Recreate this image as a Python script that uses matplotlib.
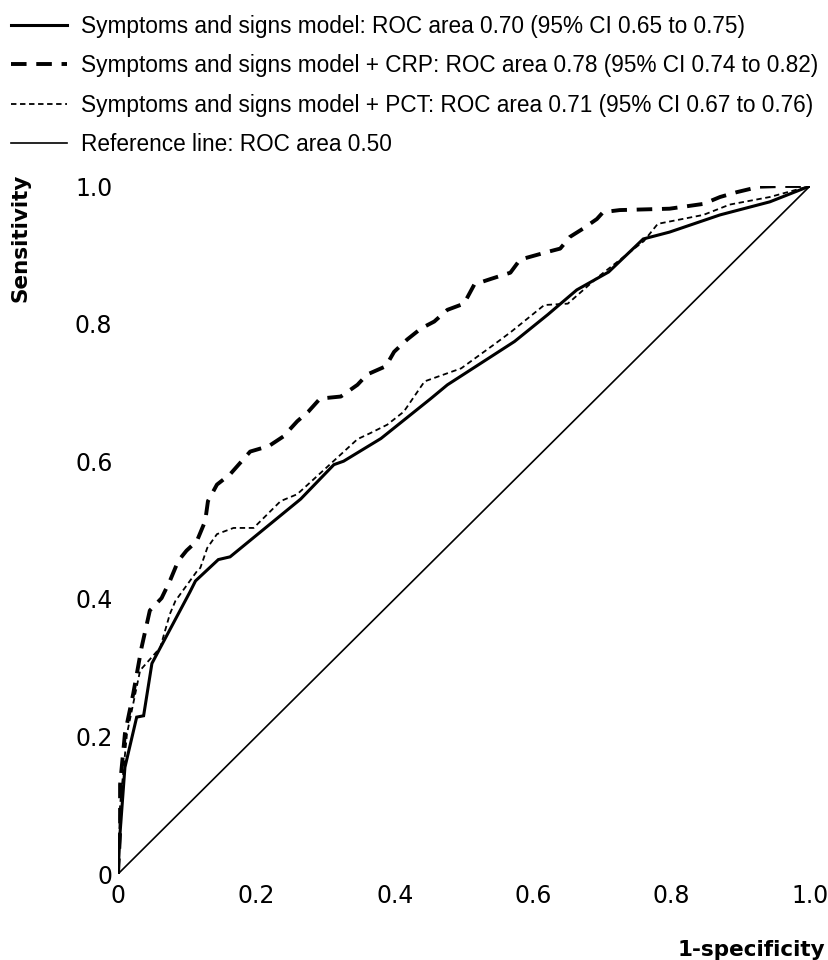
import matplotlib
matplotlib.use('Agg')
import matplotlib.pyplot as plt

# ROC curves (1-specificity, sensitivity)
fpr_model = [0, 0.003, 0.01, 0.027, 0.037, 0.049, 0.104, 0.112, 0.145, 0.162, 0.264, 0.312,
             0.326, 0.38, 0.452, 0.476, 0.573, 0.621, 0.663, 0.709, 0.759, 0.797, 0.87, 0.942, 1.0]
tpr_model = [0, 0.06, 0.155, 0.228, 0.23, 0.306, 0.41, 0.426, 0.457, 0.461, 0.545, 0.595,
             0.6, 0.633, 0.691, 0.711, 0.774, 0.813, 0.849, 0.875, 0.923, 0.933, 0.958, 0.977, 1.0]

fpr_crp = [0, 0.003, 0.003, 0.01, 0.022, 0.034, 0.046, 0.063, 0.075, 0.087, 0.099, 0.114,
           0.126, 0.13, 0.143, 0.162, 0.191, 0.218, 0.239, 0.259, 0.275, 0.292, 0.322, 0.346,
           0.36, 0.387, 0.399, 0.418, 0.438, 0.457, 0.476, 0.5, 0.515, 0.539, 0.567, 0.581,
           0.62, 0.639, 0.653, 0.672, 0.692, 0.701, 0.725, 0.797, 0.846, 0.87, 0.894, 0.927,
           0.96, 1.0]
tpr_crp = [0, 0.06, 0.13, 0.204, 0.262, 0.329, 0.383, 0.401, 0.426, 0.455, 0.47, 0.484,
           0.513, 0.542, 0.566, 0.581, 0.614, 0.622, 0.636, 0.658, 0.672, 0.691, 0.694, 0.711,
           0.726, 0.738, 0.759, 0.777, 0.793, 0.803, 0.82, 0.829, 0.857, 0.865, 0.874, 0.893,
           0.904, 0.909, 0.926, 0.938, 0.952, 0.962, 0.965, 0.967, 0.974, 0.984, 0.991, 0.999,
           1.0, 1.0]

fpr_pct = [0, 0.003, 0.013, 0.032, 0.061, 0.075, 0.083, 0.114, 0.119, 0.129, 0.143, 0.167,
           0.196, 0.225, 0.235, 0.259, 0.283, 0.307, 0.346, 0.365, 0.389, 0.413, 0.443, 0.496,
           0.544, 0.568, 0.616, 0.65, 0.694, 0.76, 0.78, 0.846, 0.884, 0.942, 1.0]
tpr_pct = [0, 0.1, 0.204, 0.296, 0.329, 0.378, 0.397, 0.44, 0.445, 0.474, 0.494, 0.503,
           0.503, 0.532, 0.542, 0.552, 0.574, 0.596, 0.632, 0.641, 0.653, 0.672, 0.716, 0.735,
           0.77, 0.788, 0.827, 0.829, 0.868, 0.92, 0.945, 0.958, 0.973, 0.984, 1.0]

ref_x = [0, 1]
ref_y = [0, 1]

labels = [
    'Symptoms and signs model: ROC area 0.70 (95% CI 0.65 to 0.75)',
    'Symptoms and signs model + CRP: ROC area 0.78 (95% CI 0.74 to 0.82)',
    'Symptoms and signs model + PCT: ROC area 0.71 (95% CI 0.67 to 0.76)',
    'Reference line: ROC area 0.50',
]
ticks = [0, 0.2, 0.4, 0.6, 0.8, 1.0]
tick_labels = ['0', '0.2', '0.4', '0.6', '0.8', '1.0']

W, H = 829, 960
fig = plt.figure(figsize=(W / 100, H / 100), dpi=100)
ax = fig.add_axes([118 / W, (H - 874) / H, 692 / W, 688 / H])

l1, = ax.plot(fpr_model, tpr_model, color='black', lw=2.2, solid_joinstyle='miter')
l2, = ax.plot(fpr_crp, tpr_crp, color='black', lw=2.8, linestyle=(0, (4, 2.5)))
l3, = ax.plot(fpr_pct, tpr_pct, color='black', lw=1.3, linestyle=(0, (3, 2)))
l4, = ax.plot(ref_x, ref_y, color='black', lw=1.2)

ax.set_xlim(0, 1)
ax.set_ylim(0, 1)
for s in ax.spines.values():
    s.set_visible(False)
ax.set_xticks(ticks)
ax.set_xticklabels(tick_labels)
ax.set_yticks(ticks)
ax.set_yticklabels(tick_labels)
ax.tick_params(length=0, labelsize=17, pad=7)
ax.tick_params(axis='y', pad=4)
for t in ax.get_xticklabels() + ax.get_yticklabels():
    t.set_fontfamily('DejaVu Sans')

fig.text(21 / W, 1 - 238 / H, 'Sensitivity', rotation=90, ha='center', va='center',
         fontsize=15.5, fontweight='bold', family='DejaVu Sans')
fig.text(825 / W, 1 - 950 / H, '1-specificity', ha='right', va='center',
         fontsize=15.5, fontweight='bold', family='DejaVu Sans')

fig.legend([l1, l2, l3, l4], labels, loc='upper left', bbox_to_anchor=(11 / W, 1 - 15 / H),
           frameon=False, prop={'family': 'Liberation Sans', 'size': 16.3},
           handlelength=2.48, handletextpad=0.62, labelspacing=0.72,
           borderpad=0, borderaxespad=0)

fig.savefig('out.png', dpi=100)
